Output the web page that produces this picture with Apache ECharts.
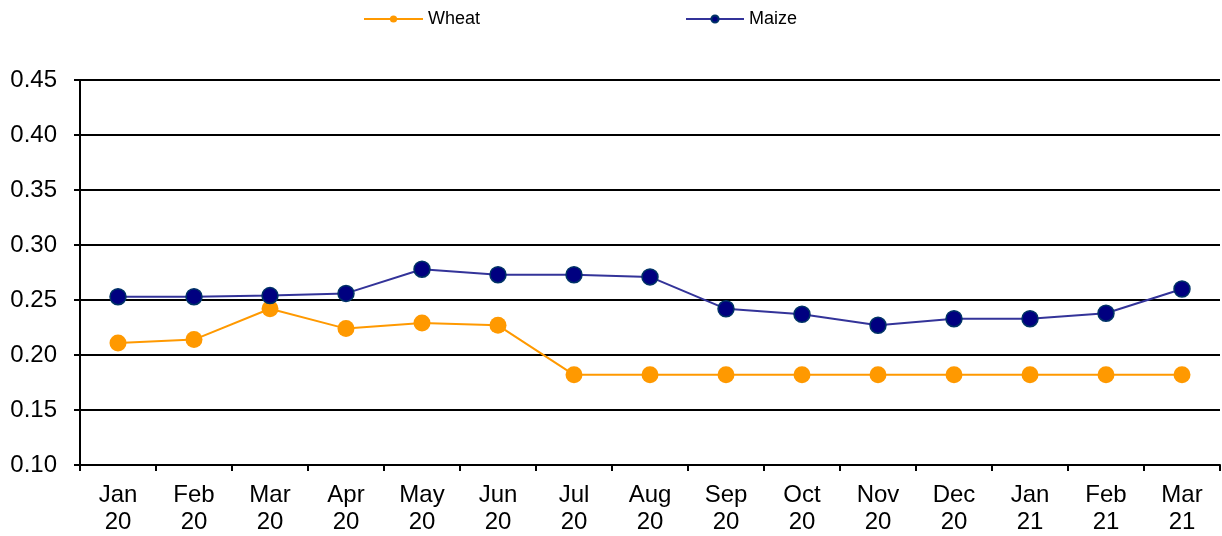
<!DOCTYPE html>
<html>
<head>
<meta charset="utf-8">
<script src="https://cdn.jsdelivr.net/npm/echarts@6/dist/echarts.min.js"></script>
<style>
  html, body { margin: 0; padding: 0; background: #fff; }
  #chart { width: 1222px; height: 536px; }
</style>
</head>
<body>
<div id="chart"></div>
<script>
const months = ['Jan\n20', 'Feb\n20', 'Mar\n20', 'Apr\n20', 'May\n20', 'Jun\n20', 'Jul\n20', 'Aug\n20',
    'Sep\n20', 'Oct\n20', 'Nov\n20', 'Dec\n20', 'Jan\n21', 'Feb\n21', 'Mar\n21'];
const wheat = [0.211, 0.214, 0.242, 0.224, 0.229, 0.227, 0.182, 0.182, 0.182, 0.182, 0.182, 0.182, 0.182, 0.182, 0.182];
const maize = [0.253, 0.253, 0.254, 0.256, 0.278, 0.273, 0.273, 0.271, 0.242, 0.237, 0.227, 0.233, 0.233, 0.238, 0.260];

const chart = echarts.init(document.getElementById('chart'));

const font = 'Liberation Sans, Arial, sans-serif';

chart.setOption({
    animation: false,
    legend: [
        {
            data: ['Wheat'], left: 358, top: 5, itemWidth: 59, itemHeight: 9, itemGap: 0,
            textStyle: { fontFamily: font, fontSize: 18, color: '#000' }
        },
        {
            data: ['Maize'], left: 680, top: 5, itemWidth: 58, itemHeight: 9, itemGap: 0,
            textStyle: { fontFamily: font, fontSize: 18, color: '#000' }
        }
    ],
    grid: { left: 80, right: 2, top: 80, bottom: 70, containLabel: false },
    xAxis: {
        type: 'category',
        data: months,
        boundaryGap: true,
        axisLine: { lineStyle: { color: '#000', width: 2 } },
        axisTick: { show: true, length: 6, lineStyle: { color: '#000', width: 2 } },
        axisLabel: { color: '#000', fontFamily: font, fontSize: 24, lineHeight: 27, margin: 17, interval: 0 }
    },
    yAxis: {
        type: 'value',
        min: 0.10,
        max: 0.45,
        interval: 0.05,
        axisLine: { show: true, lineStyle: { color: '#000', width: 2 } },
        axisTick: { show: true, length: 6, lineStyle: { color: '#000', width: 2 } },
        splitLine: { lineStyle: { color: '#000', width: 2 } },
        axisLabel: { color: '#000', fontFamily: font, fontSize: 24, margin: 23, formatter: v => v.toFixed(2) }
    },
    series: [
        {
            name: 'Wheat', type: 'line', data: wheat,
            symbol: 'circle', symbolSize: 17,
            lineStyle: { color: '#FF9900', width: 2 },
            itemStyle: { color: '#FF9900' }
        },
        {
            name: 'Maize', type: 'line', data: maize,
            symbol: 'circle', symbolSize: 16,
            lineStyle: { color: '#333399', width: 2 },
            itemStyle: { color: '#000080', borderColor: '#003366', borderWidth: 1.5 }
        }
    ]
});
</script>
</body>
</html>
